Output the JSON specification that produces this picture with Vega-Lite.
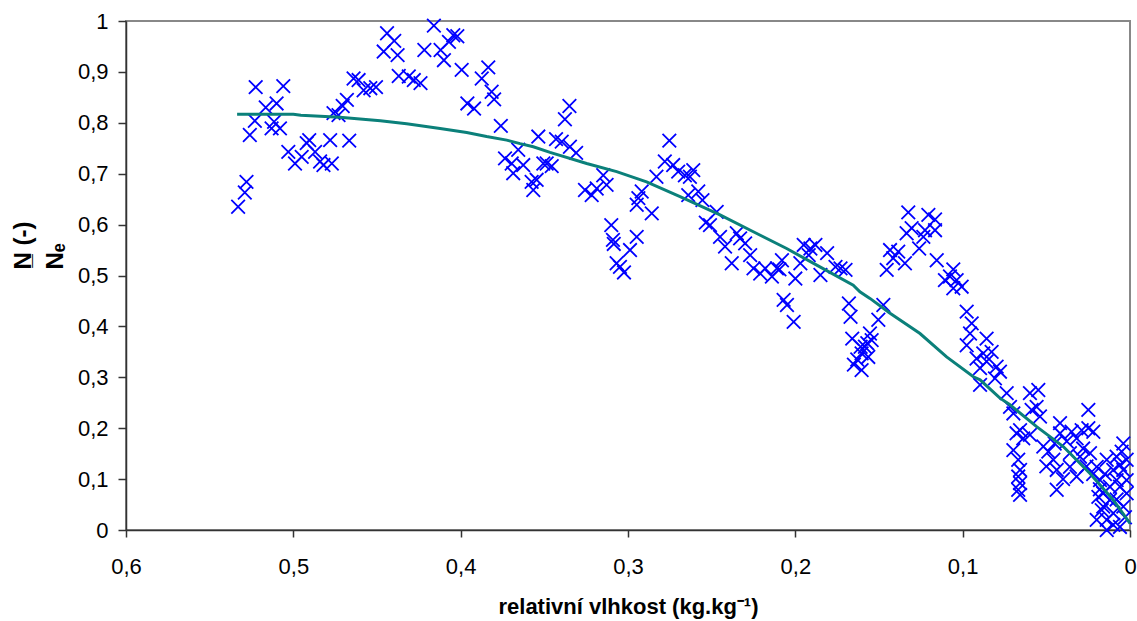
{
  "$schema": "https://vega.github.io/schema/vega-lite/v6.json",
  "width": 1004,
  "height": 509,
  "autosize": {"type": "none"},
  "padding": {"left": 126, "top": 21, "right": 7, "bottom": 91},
  "background": "white",
  "config": {
    "font": "Liberation Sans",
    "view": {"stroke": "#888888", "strokeWidth": 2},
    "axis": {
      "grid": false,
      "domainColor": "#333333",
      "domainWidth": 1.5,
      "tickColor": "#333333",
      "tickWidth": 1.5,
      "labelFont": "Liberation Sans",
      "labelFontSize": 22,
      "labelColor": "#000000",
      "labelFlush": false,
      "labelOverlap": false,
      "titleFont": "Liberation Sans",
      "titleFontSize": 22,
      "titleFontWeight": "bold",
      "titleColor": "#000000"
    }
  },
  "datasets": {
    "points": [
      {"x":0.5225,"y":0.870},{"x":0.506,"y":0.872},{"x":0.5165,"y":0.830},{"x":0.510,"y":0.838},{"x":0.523,"y":0.804},
      {"x":0.526,"y":0.776},{"x":0.513,"y":0.789},{"x":0.508,"y":0.789},{"x":0.5115,"y":0.802},{"x":0.503,"y":0.743},
      {"x":0.499,"y":0.720},{"x":0.528,"y":0.684},{"x":0.529,"y":0.663},{"x":0.533,"y":0.635},
      {"x":0.495,"y":0.733},{"x":0.492,"y":0.760},{"x":0.4905,"y":0.766},{"x":0.487,"y":0.743},{"x":0.484,"y":0.724},
      {"x":0.482,"y":0.717},{"x":0.477,"y":0.720},{"x":0.478,"y":0.766},{"x":0.4666,"y":0.765},{"x":0.476,"y":0.819},
      {"x":0.473,"y":0.815},{"x":0.4705,"y":0.833},{"x":0.468,"y":0.845},{"x":0.464,"y":0.887},{"x":0.461,"y":0.884},
      {"x":0.458,"y":0.864},{"x":0.454,"y":0.868},{"x":0.4506,"y":0.870},{"x":0.444,"y":0.976},{"x":0.4397,"y":0.961},
      {"x":0.446,"y":0.940},{"x":0.4377,"y":0.933},{"x":0.437,"y":0.892},{"x":0.431,"y":0.891},{"x":0.428,"y":0.884},
      {"x":0.424,"y":0.878},{"x":0.416,"y":0.991},{"x":0.4217,"y":0.943},{"x":0.412,"y":0.943},{"x":0.410,"y":0.923},
      {"x":0.407,"y":0.959},{"x":0.4044,"y":0.972},{"x":0.402,"y":0.970},{"x":0.3994,"y":0.904},{"x":0.396,"y":0.838},
      {"x":0.392,"y":0.828},{"x":0.3874,"y":0.887},{"x":0.3835,"y":0.909},{"x":0.3815,"y":0.861},{"x":0.380,"y":0.846},
      {"x":0.376,"y":0.794},{"x":0.3735,"y":0.730},{"x":0.3695,"y":0.720},{"x":0.3686,"y":0.701},{"x":0.3656,"y":0.747},
      {"x":0.3626,"y":0.717},{"x":0.3576,"y":0.684},{"x":0.3566,"y":0.668},{"x":0.3546,"y":0.688},{"x":0.3536,"y":0.773},
      {"x":0.3506,"y":0.720},
      {"x":0.335,"y":0.833},{"x":0.3377,"y":0.807},{"x":0.343,"y":0.768},{"x":0.3396,"y":0.763},{"x":0.3347,"y":0.753},
      {"x":0.331,"y":0.741},{"x":0.3486,"y":0.720},{"x":0.3456,"y":0.715},{"x":0.2753,"y":0.765},{"x":0.278,"y":0.724},
      {"x":0.273,"y":0.717},{"x":0.270,"y":0.704},{"x":0.266,"y":0.697},{"x":0.261,"y":0.707},{"x":0.263,"y":0.694},
      {"x":0.283,"y":0.694},{"x":0.3148,"y":0.697},{"x":0.3128,"y":0.678},{"x":0.3257,"y":0.668},{"x":0.3217,"y":0.658},
      {"x":0.3187,"y":0.671},{"x":0.2918,"y":0.665},{"x":0.2938,"y":0.652},{"x":0.2948,"y":0.639},{"x":0.2858,"y":0.622},
      {"x":0.310,"y":0.599},{"x":0.309,"y":0.570},{"x":0.3085,"y":0.562},{"x":0.2948,"y":0.576},{"x":0.2988,"y":0.550},
      {"x":0.3068,"y":0.524},{"x":0.3048,"y":0.517},{"x":0.3024,"y":0.506},{"x":0.258,"y":0.665},{"x":0.2555,"y":0.648},
      {"x":0.264,"y":0.658},{"x":0.247,"y":0.625},{"x":0.251,"y":0.599},{"x":0.2535,"y":0.604},{"x":0.245,"y":0.576},
      {"x":0.242,"y":0.557},{"x":0.238,"y":0.524},{"x":0.235,"y":0.583},{"x":0.233,"y":0.573},{"x":0.230,"y":0.563},
      {"x":0.227,"y":0.540},{"x":0.225,"y":0.514},{"x":0.221,"y":0.504},{"x":0.218,"y":0.514},{"x":0.214,"y":0.498},
      {"x":0.211,"y":0.514},{"x":0.208,"y":0.530},{"x":0.2095,"y":0.512},{"x":0.207,"y":0.452},{"x":0.205,"y":0.442},
      {"x":0.201,"y":0.409},{"x":0.200,"y":0.494},{"x":0.197,"y":0.524},{"x":0.195,"y":0.560},{"x":0.191,"y":0.553},
      {"x":0.188,"y":0.560},{"x":0.192,"y":0.540},{"x":0.185,"y":0.501},{"x":0.181,"y":0.544},{"x":0.176,"y":0.517},
      {"x":0.173,"y":0.514},{"x":0.170,"y":0.511},{"x":0.168,"y":0.445},{"x":0.167,"y":0.419},{"x":0.166,"y":0.376},
      {"x":0.161,"y":0.360},{"x":0.157,"y":0.367},{"x":0.163,"y":0.335},{"x":0.165,"y":0.325},
      {"x":0.1325,"y":0.624},{"x":0.1205,"y":0.619},{"x":0.1165,"y":0.610},{"x":0.1305,"y":0.593},{"x":0.1335,"y":0.583},
      {"x":0.1225,"y":0.589},{"x":0.1165,"y":0.589},{"x":0.1235,"y":0.576},{"x":0.126,"y":0.553},{"x":0.1434,"y":0.550},
      {"x":0.1385,"y":0.547},{"x":0.1415,"y":0.534},{"x":0.1345,"y":0.524},{"x":0.1454,"y":0.511},{"x":0.1155,"y":0.530},
      {"x":0.1056,"y":0.512},{"x":0.1106,"y":0.491},{"x":0.1076,"y":0.498},{"x":0.1036,"y":0.491},{"x":0.1056,"y":0.475},
      {"x":0.1006,"y":0.478},{"x":0.0976,"y":0.429},{"x":0.0946,"y":0.406},{"x":0.0956,"y":0.386},{"x":0.0976,"y":0.363},
      {"x":0.0857,"y":0.376},{"x":0.0917,"y":0.337},{"x":0.0877,"y":0.347},{"x":0.0827,"y":0.350},{"x":0.0896,"y":0.318},
      {"x":0.0857,"y":0.331},{"x":0.0797,"y":0.321},{"x":0.0777,"y":0.311},{"x":0.0807,"y":0.298},{"x":0.0896,"y":0.285},
      {"x":0.0737,"y":0.269},{"x":0.0598,"y":0.269},{"x":0.0548,"y":0.275},{"x":0.1474,"y":0.442},{"x":0.1504,"y":0.413},
      {"x":0.1554,"y":0.386},{"x":0.1544,"y":0.373},{"x":0.1584,"y":0.360},{"x":0.1604,"y":0.347},{"x":0.1564,"y":0.340},
      {"x":0.1604,"y":0.314},
      {"x":0.0717,"y":0.242},{"x":0.0697,"y":0.229},{"x":0.0588,"y":0.236},{"x":0.0558,"y":0.242},{"x":0.0538,"y":0.223},
      {"x":0.0678,"y":0.190},{"x":0.0657,"y":0.196},{"x":0.0638,"y":0.180},{"x":0.0697,"y":0.157},{"x":0.0668,"y":0.138},
      {"x":0.0657,"y":0.118},{"x":0.0668,"y":0.105},{"x":0.0657,"y":0.092},{"x":0.0668,"y":0.079},{"x":0.0657,"y":0.069},
      {"x":0.0598,"y":0.187},{"x":0.0518,"y":0.164},{"x":0.0488,"y":0.154},{"x":0.0458,"y":0.138},{"x":0.0438,"y":0.118},
      {"x":0.0438,"y":0.079},{"x":0.0418,"y":0.210},{"x":0.0418,"y":0.190},{"x":0.0378,"y":0.174},{"x":0.0349,"y":0.193},
      {"x":0.0319,"y":0.180},{"x":0.0289,"y":0.196},{"x":0.0249,"y":0.236},{"x":0.0249,"y":0.200},{"x":0.0219,"y":0.193},
      {"x":0.0359,"y":0.151},{"x":0.0299,"y":0.144},{"x":0.0359,"y":0.124},{"x":0.0319,"y":0.105},{"x":0.0239,"y":0.151},
      {"x":0.0199,"y":0.124},{"x":0.0139,"y":0.138},{"x":0.0179,"y":0.098},{"x":0.0160,"y":0.072},{"x":0.0160,"y":0.046},
      {"x":0.0139,"y":0.020},{"x":0.0139,"y":0.000},{"x":0.0060,"y":0.006},{"x":0.0100,"y":0.033},{"x":0.0120,"y":0.059},
      {"x":0.0040,"y":0.170},{"x":0.0050,"y":0.154},{"x":0.0020,"y":0.138},{"x":0.0040,"y":0.118},{"x":0.0020,"y":0.098},
      {"x":0.0060,"y":0.085},{"x":0.0020,"y":0.072},{"x":0.0040,"y":0.046},{"x":0.0080,"y":0.098},{"x":0.0100,"y":0.118},
      {"x":0.0189,"y":0.065},{"x":0.0169,"y":0.039},{"x":0.0199,"y":0.020},{"x":0.0080,"y":0.144},
      {"x":0.012,"y":0.085},{"x":0.015,"y":0.110},{"x":0.008,"y":0.060},{"x":0.003,"y":0.025},{"x":0.010,"y":0.010},
      {"x":0.018,"y":0.080},{"x":0.006,"y":0.128},{"x":0.022,"y":0.110},{"x":0.026,"y":0.125},{"x":0.028,"y":0.160},
      {"x":0.045,"y":0.170},{"x":0.050,"y":0.125},{"x":0.040,"y":0.100}
    ],
    "curve": [
      {"x":0.5336,"y":0.817},{"x":0.500,"y":0.817},{"x":0.4955,"y":0.815},{"x":0.4723,"y":0.811},{"x":0.448,"y":0.804},
      {"x":0.4323,"y":0.798},{"x":0.4123,"y":0.789},{"x":0.3964,"y":0.781},{"x":0.3845,"y":0.773},{"x":0.3725,"y":0.766},
      {"x":0.3645,"y":0.759},{"x":0.3566,"y":0.753},{"x":0.3466,"y":0.742},{"x":0.3247,"y":0.720},{"x":0.3068,"y":0.704},
      {"x":0.2889,"y":0.684},{"x":0.2689,"y":0.655},{"x":0.2450,"y":0.619},{"x":0.2251,"y":0.586},{"x":0.2052,"y":0.553},
      {"x":0.1853,"y":0.517},{"x":0.1654,"y":0.481},{"x":0.1614,"y":0.468},{"x":0.1554,"y":0.455},{"x":0.1434,"y":0.426},
      {"x":0.1255,"y":0.386},{"x":0.1096,"y":0.340},{"x":0.0936,"y":0.301},{"x":0.0896,"y":0.295},{"x":0.0777,"y":0.259},
      {"x":0.0717,"y":0.246},{"x":0.0558,"y":0.203},{"x":0.0399,"y":0.164},{"x":0.0239,"y":0.111},{"x":0.0100,"y":0.059},
      {"x":0.0,"y":0.013}
    ]
  },
  "encoding": {
    "x": {
      "field": "x",
      "type": "quantitative",
      "scale": {"domain": [0, 0.6], "reverse": true, "nice": false, "zero": false},
      "axis": {
        "values": [0, 0.1, 0.2, 0.3, 0.4, 0.5, 0.6],
        "labelExpr": "replace(format(datum.value, '.1~f'), '.', ',')",
        "tickSize": 7,
        "labelPadding": 19,
        "title": "relativní vlhkost (kg.kg⁻¹)",
        "titleBaseline": "alphabetic",
        "titleY": 83
      }
    },
    "y": {
      "field": "y",
      "type": "quantitative",
      "scale": {"domain": [0, 1], "nice": false, "zero": false},
      "axis": {
        "values": [0, 0.1, 0.2, 0.3, 0.4, 0.5, 0.6, 0.7, 0.8, 0.9, 1],
        "labelExpr": "replace(format(datum.value, '.1~f'), '.', ',')",
        "tickSize": 8,
        "labelPadding": 10,
        "title": ["N̲  (-)", "Nₑ"],
        "titleFontSize": 24,
        "titleAngle": -90,
        "titleAlign": "left",
        "titleBaseline": "top",
        "titleLineHeight": 32,
        "titleX": -115,
        "titleY": 248
      }
    }
  },
  "layer": [
    {
      "data": {"name": "points"},
      "mark": {"type": "point", "shape": "M-1,-1L1,1M-1,1L1,-1", "filled": false, "stroke": "#0000FF", "strokeWidth": 1.8, "size": 185, "opacity": 1}
    },
    {
      "data": {"name": "curve"},
      "mark": {"type": "line", "color": "#0B807A", "strokeWidth": 3}
    }
  ]
}
